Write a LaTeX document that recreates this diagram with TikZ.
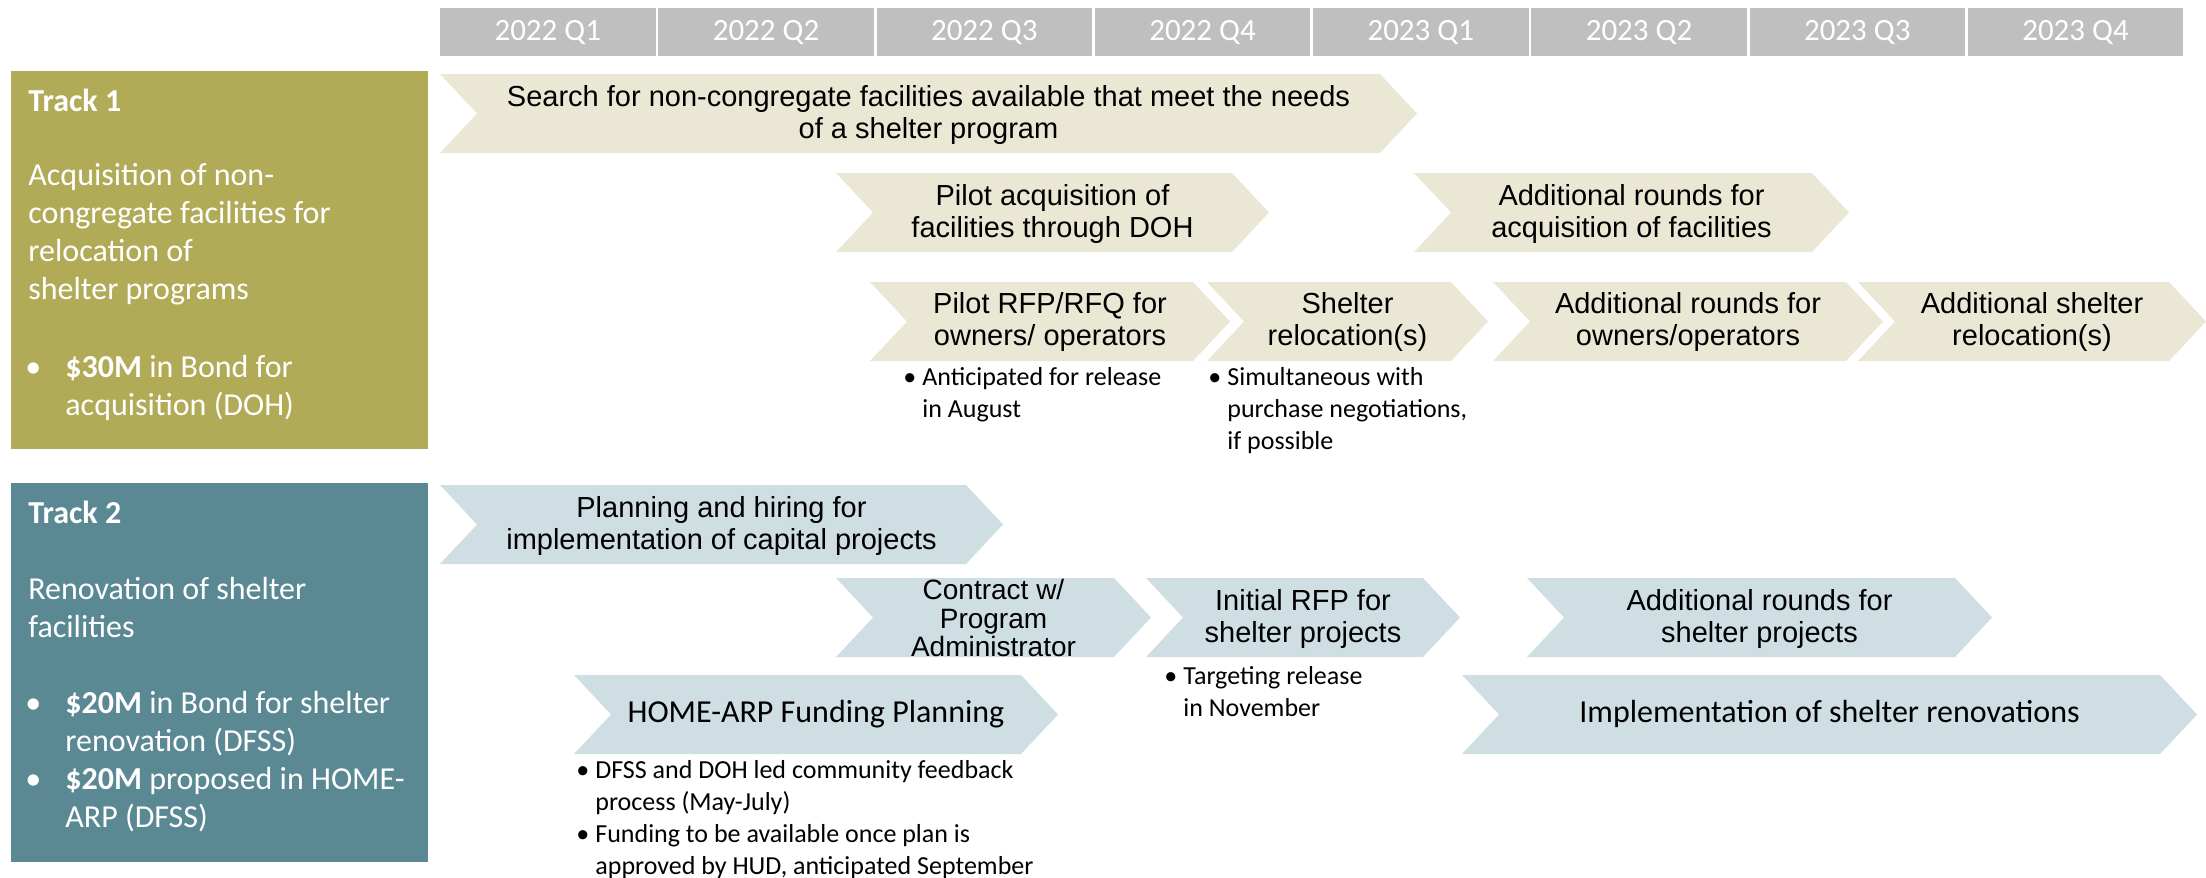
\documentclass[tikz,border=0pt]{standalone}
\usepackage{fontspec}
\setmainfont{Carlito}
\newfontfamily\chevfont{Liberation Sans}
\definecolor{trackone}{HTML}{B1AB58}
\definecolor{tracktwo}{HTML}{5B8993}
\definecolor{stepone}{HTML}{EAE7D5}
\definecolor{steptwo}{HTML}{CFDEE3}
\definecolor{quartergray}{HTML}{BFBFBF}

\begin{document}
\begin{tikzpicture}[x=0.5pt,y=-0.5pt,
  quarter/.style={text=white,inner sep=0pt,font=\fontsize{15.5}{18}\selectfont},
  tracklabel/.style={text=white,anchor=west,align=left,inner sep=0pt,font=\fontsize{16}{19}\selectfont},
  chevtext/.style={align=center,inner sep=0pt,font=\chevfont\fontsize{14.5}{16}\selectfont},
  bigtext/.style={inner sep=0pt,font=\fontsize{16}{19}\selectfont},
  note/.style={anchor=west,align=left,inner sep=0pt,font=\fontsize{13}{16}\selectfont}]
  \useasboundingbox (0,0) rectangle (2206,878);

  % Trimestres
  \foreach \q [count=\i from 0] in {2022 Q1,2022 Q2,2022 Q3,2022 Q4,2023 Q1,2023 Q2,2023 Q3,2023 Q4} {
    \fill[quartergray] ({440+218.25*\i},8) rectangle ++(215.5,48);
    \node[quarter] (q\i) at ({547.75+218.25*\i},32) {\q};
  }

  \fill[trackone] (11,71) rectangle (428,449);
  \fill[tracktwo] (11,483) rectangle (428,862);

  % Chevrons : gauche / pointe / haut / couleur
  \foreach \xa/\xb/\yt/\c in {440/1417/74/stepone, 836/1269/173/stepone, 1414/1849/173/stepone,
      870/1230/282/stepone, 1207/1488/282/stepone, 1493/1883/282/stepone, 1858/2206/282/stepone,
      440/1003/485/steptwo, 836/1151/578/steptwo, 1146/1460/578/steptwo, 1527/1992/578/steptwo,
      574/1058/675/steptwo, 1462/2197/675/steptwo}
    \fill[\c] (\xa,\yt) -- ({\xb-37},\yt) -- (\xb,{\yt+39.5}) -- ({\xb-37},{\yt+79})
      -- (\xa,{\yt+79}) -- ({\xa+37},{\yt+39.5}) -- cycle;

  \node[tracklabel] (t1title) at (28,100) {\textbf{Track 1}};
  \node[tracklabel] (t1desc) at (28,234) {Acquisition of non-\\congregate facilities for\\relocation of\\shelter programs};
  \node[tracklabel] (t1fund) at (65,388) {\llap{\textbullet\hspace{12pt}}\textbf{\$30M} in Bond for\\acquisition (DOH)};

  \node[tracklabel] (t2title) at (28,512) {\textbf{Track 2}};
  \node[tracklabel] (t2desc) at (28,608) {Renovation of shelter\\facilities};
  \node[tracklabel] (t2fund) at (65,762) {\llap{\textbullet\hspace{12pt}}\textbf{\$20M} in Bond for shelter\\renovation (DFSS)\\\llap{\textbullet\hspace{12pt}}\textbf{\$20M} proposed in HOME-\\ARP (DFSS)};

  \node[chevtext] (search) at (928.5,115) {Search for non-congregate facilities available that meet the needs\\of a shelter program};
  \node[chevtext] (pilotacq) at (1052.5,213.5) {Pilot acquisition of\\facilities through DOH};
  \node[chevtext] (moreacq) at (1631.5,213.5) {Additional rounds for\\acquisition of facilities};
  \node[chevtext] (pilotrfp) at (1050,322) {Pilot RFP/RFQ for\\owners/ operators};
  \node[chevtext] (reloc) at (1347.5,322) {Shelter\\relocation(s)};
  \node[chevtext] (moreowners) at (1688,322) {Additional rounds for\\owners/operators};
  \node[chevtext] (morereloc) at (2032,322) {Additional shelter\\relocation(s)};

  \node[chevtext] (planning) at (721.5,526) {Planning and hiring for\\implementation of capital projects};
  \node[chevtext,font=\chevfont\fontsize{14}{14.25}\selectfont] (contract) at (993.5,618) {Contract w/\\Program\\Administrator};
  \node[chevtext] (initialrfp) at (1303,619) {Initial RFP for\\shelter projects};
  \node[chevtext] (moreprojects) at (1759.5,619) {Additional rounds for\\shelter projects};
  \node[bigtext] (homearp) at (816,714) {HOME-ARP Funding Planning};
  \node[bigtext] (renovations) at (1829.5,714) {Implementation of shelter renovations};

  % Notes sous les chevrons
  \node[note] (rfpnote) at (922,395) {\llap{\textbullet\hspace{3pt}}Anticipated for release\\in August};
  \node[note] (relocnote) at (1227,411) {\llap{\textbullet\hspace{3pt}}Simultaneous with\\purchase negotiations,\\if possible};
  \node[note] (initialnote) at (1183,691.5) {\llap{\textbullet\hspace{3pt}}Targeting release\\in November};
  \node[note] (homenote) at (595,819.5) {\llap{\textbullet\hspace{3pt}}DFSS and DOH led community feedback\\process (May-July)\\\llap{\textbullet\hspace{3pt}}Funding to be available once plan is\\approved by HUD, anticipated September};
\end{tikzpicture}
\end{document}
